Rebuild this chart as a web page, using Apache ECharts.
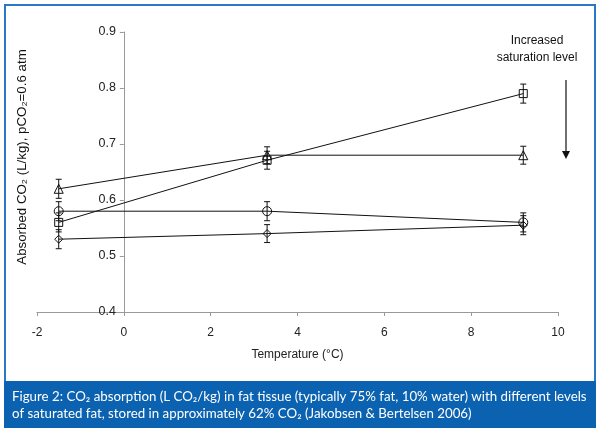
<!DOCTYPE html>
<html>
<head>
<meta charset="utf-8">
<script src="https://cdn.jsdelivr.net/npm/echarts@6/dist/echarts.min.js"></script>
<style>
html,body{margin:0;padding:0;background:#fff;}
#c{width:600px;height:431px;}
</style>
</head>
<body>
<div id="c"></div>
<script>
// ---- data ----
var temps = [-1.5, 3.3, 9.2];
var triangleVals = [0.62, 0.68, 0.68];
var triangleErr  = [0.017, 0.015, 0.016];
var squareVals   = [0.56, 0.671, 0.79];
var squareErr    = [0.017, 0.016, 0.017];
var circleVals   = [0.58, 0.58, 0.56];
var circleErr    = [0.017, 0.017, 0.017];
var diamondVals  = [0.53, 0.54, 0.555];
var diamondErr   = [0.017, 0.016, 0.017];
var xTicks = [-2, 0, 2, 4, 6, 8, 10];
var yTicks = [0.4, 0.5, 0.6, 0.7, 0.8, 0.9];

var chart = echarts.init(document.getElementById('c'), null, {renderer:'canvas'});

function pts(vals){ return temps.map(function(t,i){ return [t, vals[i]]; }); }
function errData(vals, errs){ return temps.map(function(t,i){ return [t, vals[i]-errs[i], vals[i]+errs[i]]; }); }

function errSeries(vals, errs){
  return {
    type:'custom',
    data: errData(vals, errs),
    z: 3,
    renderItem: function(params, api){
      var lo = api.coord([api.value(0), api.value(1)]);
      var hi = api.coord([api.value(0), api.value(2)]);
      var w = 3;
      var st = {stroke:'#111', lineWidth:1};
      return {type:'group', children:[
        {type:'line', shape:{x1:lo[0], y1:lo[1], x2:hi[0], y2:hi[1]}, style:st},
        {type:'line', shape:{x1:lo[0]-w, y1:lo[1], x2:lo[0]+w, y2:lo[1]}, style:st},
        {type:'line', shape:{x1:hi[0]-w, y1:hi[1], x2:hi[0]+w, y2:hi[1]}, style:st}
      ]};
    }
  };
}

function lineSeries(vals, symbol, size){
  return {
    type:'line',
    data: pts(vals),
    symbol: symbol,
    symbolSize: size,
    showAllSymbol: true,
    z: 4,
    lineStyle:{color:'#111', width:1},
    itemStyle:{color:'rgba(255,255,255,0)', borderColor:'#111', borderWidth:1},
    emphasis:{disabled:true},
    animation:false
  };
}

var font = 'Liberation Sans, Arial, sans-serif';
var gridLeft = 37, gridRight = 42;
var plotW = 600 - gridLeft - gridRight;
var xMin = xTicks[0], xMax = xTicks[xTicks.length-1];
// put the y axis line where x = 0
var yAxisOffset = -((0 - xMin) / (xMax - xMin) * plotW);

var option = {
  animation:false,
  backgroundColor:'#fff',
  grid:{left:gridLeft, right:gridRight, top:32, bottom:119},
  xAxis:{
    type:'value', min:xMin, max:xMax, interval:2,
    name:'Temperature (\u00B0C)', nameLocation:'middle', nameGap:37,
    nameTextStyle:{fontFamily:font, fontSize:12, color:'#222'},
    axisLine:{onZero:false, lineStyle:{color:'#999', width:1}},
    axisTick:{show:true, length:4, lineStyle:{color:'#999'}},
    axisLabel:{fontFamily:font, fontSize:12, color:'#222', margin:15},
    splitLine:{show:false}
  },
  yAxis:{
    type:'value', min:yTicks[0], max:yTicks[yTicks.length-1], interval:0.1,
    position:'left', offset:yAxisOffset,
    axisLine:{onZero:false, lineStyle:{color:'#999', width:1}},
    axisTick:{show:true, length:4, lineStyle:{color:'#999'}},
    axisLabel:{fontFamily:font, fontSize:12.5, color:'#222', margin:8,
      formatter:function(v){ return v.toFixed(1); }},
    splitLine:{show:false}
  },
  series:[
    errSeries(triangleVals, triangleErr),
    errSeries(squareVals, squareErr),
    errSeries(circleVals, circleErr),
    errSeries(diamondVals, diamondErr),
    lineSeries(triangleVals, 'triangle', 9),
    lineSeries(squareVals, 'rect', 8),
    lineSeries(circleVals, 'circle', 9),
    lineSeries(diamondVals, 'diamond', 8)
  ],
  graphic:[
    {type:'rect', z:-10, silent:true, shape:{x:5, y:5, width:590, height:377},
      style:{fill:'#fff', stroke:'#2a78c8', lineWidth:2}},
    {type:'rect', z:-9, silent:true, shape:{x:4, y:381, width:592, height:47},
      style:{fill:'#0b62b0'}},
    {type:'text', silent:true, x:12, y:390,
      style:{text:'Figure 2: CO\u2082 absorption (L CO\u2082/kg) in fat tissue (typically 75% fat, 10% water) with different levels',
        fill:'#fff', font:'13.3px Lato, "Open Sans", sans-serif'}},
    {type:'text', silent:true, x:12, y:407,
      style:{text:'of saturated fat, stored in approximately 62% CO\u2082 (Jakobsen & Bertelsen 2006)',
        fill:'#fff', font:'13.3px Lato, "Open Sans", sans-serif'}},
    {type:'text', silent:true, x:22, y:157, rotation:Math.PI/2,
      style:{text:'Absorbed CO\u2082 (L/kg), pCO\u2082=0.6 atm', fill:'#111',
        font:'13.3px "Liberation Sans", Arial, sans-serif', align:'center', verticalAlign:'middle'}},
    {type:'text', silent:true, x:537, y:41,
      style:{text:'Increased', fill:'#111', font:'12px "Liberation Sans", Arial, sans-serif', align:'center', verticalAlign:'middle'}},
    {type:'text', silent:true, x:537, y:58,
      style:{text:'saturation level', fill:'#111', font:'12px "Liberation Sans", Arial, sans-serif', align:'center', verticalAlign:'middle'}},
    {type:'line', silent:true, shape:{x1:566, y1:80, x2:566, y2:152}, style:{stroke:'#111', lineWidth:1.2}},
    {type:'polygon', silent:true, shape:{points:[[562,151],[570,151],[566,159]]}, style:{fill:'#111'}}
  ]
};
chart.setOption(option);
</script>
</body>
</html>
